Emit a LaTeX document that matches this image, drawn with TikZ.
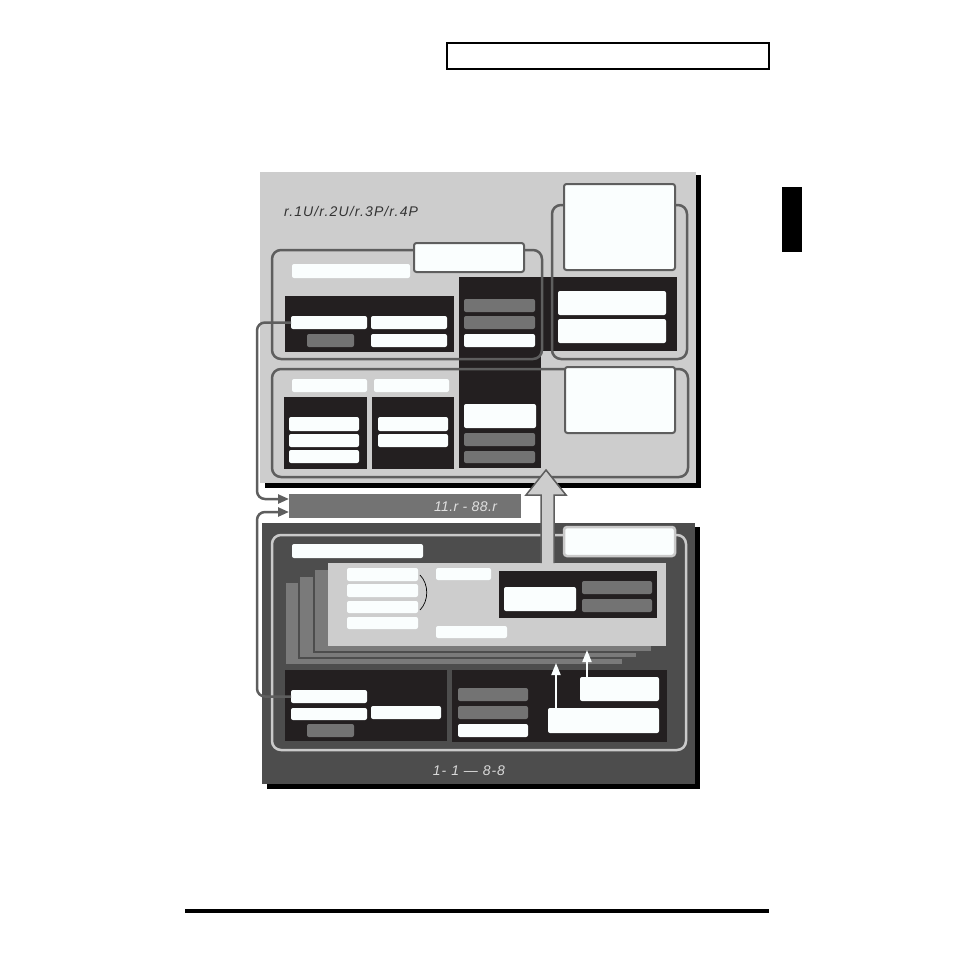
\documentclass[tikz,border=0pt]{standalone}
\usepackage{fontspec}
\newfontfamily\segfont{Liberation Sans}
\usetikzlibrary{arrows.meta}
\definecolor{pnl}{HTML}{CDCDCD}
\definecolor{dpnl}{HTML}{4D4D4D}
\definecolor{blk}{HTML}{231F20}
\definecolor{mg}{HTML}{737373}
\definecolor{lay}{HTML}{7A7A7A}
\definecolor{olt}{HTML}{5E5E5E}
\definecolor{wht}{HTML}{FAFEFE}
\definecolor{olb}{HTML}{CACACA}
\newcommand\mybox[6]{\node[#1,anchor=north west,minimum width={#5-#3},minimum height={#6-#4}] (#2) at (#3,#4) {};}
\begin{document}
\begin{tikzpicture}[x=1pt,y=-1pt,
  every node/.style={inner sep=0pt,outer sep=0pt},
  wb/.style={fill=wht,rounded corners=2pt},
  gb/.style={fill=mg,rounded corners=2pt},
  bk/.style={fill=blk},
  oltop/.style={draw=olt,line width=2.5pt,rounded corners=9pt},
  olbot/.style={draw=olb,line width=2.5pt,rounded corners=9pt},
  lbltop/.style={fill=wht,draw=olt,line width=2pt,rounded corners=2.5pt},
  lblbot/.style={fill=wht,draw=olb,line width=2.5pt,rounded corners=3pt},
  layer/.style={fill=lay,draw=dpnl,line width=2.5pt},
  conn/.style={draw=olt,line width=2.5pt,rounded corners=8pt,-{Triangle[length=11pt,width=9pt]}},
  warr/.style={draw=wht,line width=2pt,-{Triangle[length=12pt,width=9pt]}},
  seg/.style={font=\segfont\itshape\fontsize{14}{14}\selectfont\addfontfeature{LetterSpace=#1}}]
\useasboundingbox (0,0) rectangle (954,954);
\fill[white] (0,0) rectangle (954,954);
% page furniture
\mybox{draw=black,line width=2.5pt}{header}{447}{43}{769}{69}
\mybox{fill=black}{tab}{782}{187}{802}{252}
\mybox{fill=black}{rule}{185}{909}{769}{913}
% ===== top panel =====
\mybox{fill=black}{tshadow}{265}{175}{701}{488}
\mybox{fill=pnl}{tpanel}{260}{172}{696}{483}
\node[seg=8,text=black!80,anchor=west] (t1) at (284,211) {r.1U/r.2U/r.3P/r.4P};
% dark areas
\mybox{bk}{col}{459}{277}{541}{468}
\mybox{bk}{rblk}{459}{277}{677}{351}
\mybox{bk}{lblk}{285}{296}{454}{352}
\mybox{wb}{tbar}{292}{264}{410}{278}
\mybox{wb}{a1}{291}{316}{367}{329}
\mybox{wb}{a2}{371}{316}{447}{329}
\mybox{gb}{a3}{307}{334}{354}{347}
\mybox{wb}{a4}{371}{334}{447}{347}
\mybox{gb}{c1}{464}{299}{535}{312}
\mybox{gb}{c2}{464}{316}{535}{329}
\mybox{wb}{c3}{464}{334}{535}{347}
\mybox{wb}{c4}{464}{404}{536}{428}
\mybox{gb}{c5}{464}{433}{535}{446}
\mybox{gb}{c6}{464}{451}{535}{463}
\mybox{wb}{r1}{558}{291}{666}{315}
\mybox{wb}{r2}{558}{319}{666}{343}
% lower row of top panel
\mybox{wb}{lbar1}{292}{379}{367}{392}
\mybox{wb}{lbar2}{374}{379}{449}{392}
\mybox{bk}{lb1}{284}{397}{367}{469}
\mybox{bk}{lb2}{372}{397}{454}{469}
\mybox{wb}{d1}{289}{417}{359}{431}
\mybox{wb}{d2}{289}{434}{359}{447}
\mybox{wb}{d3}{289}{450}{359}{463}
\mybox{wb}{e1}{378}{417}{448}{431}
\mybox{wb}{e2}{378}{434}{448}{447}
% outlines
\mybox{oltop}{otl}{272}{250}{542}{359}
\mybox{oltop}{otr}{552}{205}{687}{359}
\mybox{oltop}{olow}{272}{369}{688}{477}
\mybox{lbltop}{lab1}{414}{243}{524}{272}
\mybox{lbltop}{lab2}{564}{184}{675}{270}
\mybox{lbltop}{lab3}{565}{367}{675}{433}
% ===== middle bar =====
\mybox{fill=mg}{bar}{289}{494}{521}{518}
\node[seg=3,text=white!88!black,anchor=west] (t2) at (434,507) {11.r - 88.r};
% ===== bottom panel =====
\mybox{fill=black}{bshadow}{267}{527}{700}{789}
\mybox{fill=dpnl}{bpanel}{262}{523}{695}{784}
\mybox{wb}{bbar}{292}{544}{423}{558}
\mybox{layer}{layA}{285}{582}{623}{665}
\mybox{layer}{layB}{299}{576}{637}{658}
\mybox{layer}{layC}{314}{569}{652}{652}
\mybox{fill=pnl}{mainp}{328}{563}{666}{646}
\mybox{wb}{m1}{347}{568}{418}{581}
\mybox{wb}{m2}{347}{584}{418}{597}
\mybox{wb}{m3}{347}{601}{418}{613}
\mybox{wb}{m4}{347}{617}{418}{629}
\draw[black,line width=0.7pt] (420,575) .. controls (429,584) and (429,601) .. (420,610);
\mybox{wb}{m5}{436}{568}{491}{580}
\mybox{wb}{m6}{436}{626}{507}{638}
\mybox{bk}{mblk}{499}{571}{657}{618}
\mybox{wb}{m7}{504}{587}{576}{611}
\mybox{gb}{m8}{582}{581}{652}{594}
\mybox{gb}{m9}{582}{599}{652}{612}
\mybox{bk}{bl}{285}{670}{447}{741}
\mybox{bk}{br}{452}{670}{667}{742}
\mybox{wb}{b1}{291}{690}{367}{703}
\mybox{wb}{b2}{291}{708}{367}{720}
\mybox{wb}{b3}{371}{706}{441}{719}
\mybox{gb}{b4}{307}{724}{354}{737}
\mybox{gb}{f1}{458}{688}{528}{701}
\mybox{gb}{f2}{458}{706}{528}{719}
\mybox{wb}{f3}{458}{724}{528}{737}
\mybox{wb}{g1}{580}{677}{659}{701}
\mybox{wb}{g2}{548}{708}{659}{733}
\draw[warr] (g2.north west -| 556,0) -- (556,663);
\draw[warr] (g1.north west -| 587,0) -- (587,650);
\mybox{olbot}{obot}{272}{535}{686}{750}
\mybox{lblbot}{lab4}{564}{527}{675}{556}
\node[seg=7,text=white!85!black] (t3) at (469,771) {1- 1 — 8-8};
% big arrow
\draw[fill=pnl,draw=olt,line width=1.5pt] (541,563) -- (541,495) -- (526,495) -- (546,470) -- (566,495) -- (554,495) -- (554,563);
% left connectors
\draw[conn] (a1.west) -- ++(-34,0) |- ([yshift=7pt]bar.west);
\draw[conn] (b1.west) -- ++(-34,0) |- ([yshift=-6pt]bar.west);
\end{tikzpicture}
\end{document}
